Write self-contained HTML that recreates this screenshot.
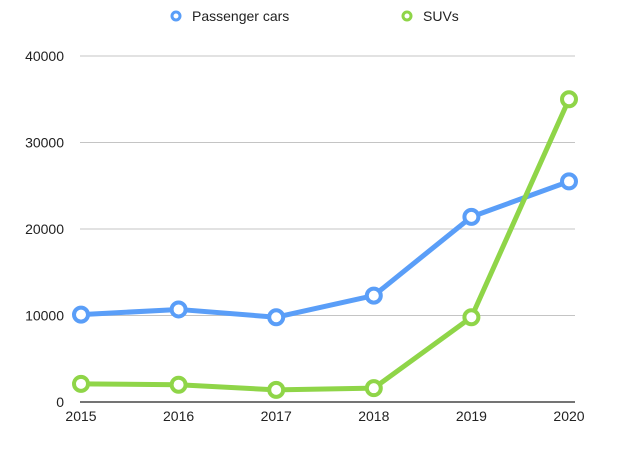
<!DOCTYPE html>
<html><head><meta charset="utf-8"><style>
body{margin:0;background:#fff;}
svg{display:block;font-family:"Liberation Sans",Arial,sans-serif;}
</style></head><body>
<svg id="chart" width="620" height="457">
<g id="grid"></g>
<g id="yt"></g>
<g id="xt"></g>
<g id="series"></g>
<g>
<g>
<circle cx="176" cy="16" r="4" fill="#fff" stroke="#5a9ef8" stroke-width="3"/>
<text x="192" y="21" font-size="14" fill="#222">Passenger cars</text></g>
<g>
<circle cx="407" cy="16" r="4" fill="#fff" stroke="#8fd548" stroke-width="3"/>
<text x="423" y="21" font-size="14" fill="#222">SUVs</text></g>
</g>
</svg>
<script>
const years=["2015","2016","2017","2018","2019","2020"];
const passengerCars=[10100,10700,9800,12300,21400,25500];
const suvs=[2100,2000,1400,1600,9800,35000];
const yTicks=[0,10000,20000,30000,40000];
const NS="http://www.w3.org/2000/svg";
const x0=81,x1=569,y0=402,y1=56;
const xs=i=>x0+i*(x1-x0)/(years.length-1);
const ys=v=>y0-(v/40000)*(y0-y1);
function mk(t,a,p){const e=document.createElementNS(NS,t);for(const k in a)e.setAttribute(k,a[k]);p.appendChild(e);return e;}
const grid=document.getElementById('grid'),yt=document.getElementById('yt'),xt=document.getElementById('xt'),ser=document.getElementById('series');
yTicks.forEach(v=>{
 const l=mk('line',{x1:80,x2:575,y1:ys(v),y2:ys(v),stroke:v===0?'#222':'#c4c4c4','stroke-width':v===0?1.2:1},grid);
 
 
 const t=mk('text',{x:64,y:ys(v)+5,'font-size':14,'text-anchor':'end',fill:'#222'},yt);
 t.textContent=v;
 
 
});
years.forEach((y,i)=>{
 const t=mk('text',{x:xs(i),y:421,'font-size':14,'text-anchor':'middle',fill:'#222'},xt);
 t.textContent=y;
 
 
});
function draw(vals,color,name){
 const g=mk('g',{},ser);
 
 
 const p=mk('polyline',{points:vals.map((v,i)=>xs(i)+','+ys(v)).join(' '),fill:'none',stroke:color,'stroke-width':5,'stroke-linejoin':'round'},g);
 
 
 vals.forEach((v,i)=>{
  const c=mk('circle',{cx:xs(i),cy:ys(v),r:7,fill:'#fff',stroke:color,'stroke-width':4},g);
  
  
 });
}
draw(passengerCars,'#5a9ef8','passenger-cars');
draw(suvs,'#8fd548','suvs');
</script>
</body></html>
